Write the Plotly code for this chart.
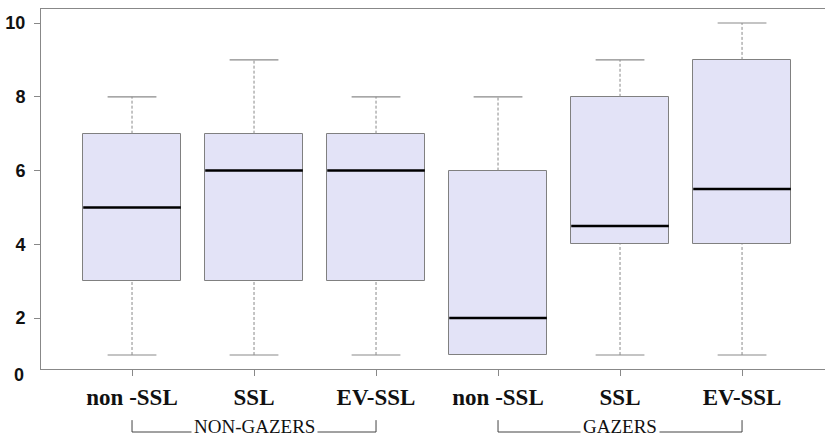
import plotly.graph_objects as go

categories = ["non -SSL", "SSL", "EV-SSL", "non -SSL", "SSL", "EV-SSL"]
groups = ["NON-GAZERS", "GAZERS"]
group_members = [[0, 1, 2], [3, 4, 5]]
lower = [1, 1, 1, 1, 1, 1]
q1 = [3, 3, 3, 1, 4, 4]
median = [5, 6, 6, 2, 4.5, 5.5]
q3 = [7, 7, 7, 6, 8, 9]
upper = [8, 9, 8, 8, 9, 10]
y_ticks = [2, 4, 6, 8, 10]
zero_label = "0"

pos = list(range(len(categories)))
BOX_W = 0.8
CAP_HALF = 0.2
GREY = "#808080"

fig = go.Figure()

# boxes
fig.add_trace(go.Bar(
    x=pos, y=[b - a for a, b in zip(q1, q3)], base=q1, width=BOX_W,
    marker=dict(color="#e3e3f7", line=dict(color=GREY, width=1)),
    hoverinfo="skip", showlegend=False))

# whiskers (dashed)
wx, wy = [], []
for i in pos:
    if upper[i] > q3[i]:
        wx += [i, i, None]; wy += [q3[i], upper[i], None]
    if lower[i] < q1[i]:
        wx += [i, i, None]; wy += [lower[i], q1[i], None]
fig.add_trace(go.Scatter(x=wx, y=wy, mode="lines",
                         line=dict(color="#8a8a8a", width=1, dash="3px,2px"),
                         hoverinfo="skip", showlegend=False))

# caps
cx, cy = [], []
for i in pos:
    if upper[i] > q3[i]:
        cx += [i - CAP_HALF, i + CAP_HALF, None]; cy += [upper[i], upper[i], None]
    if lower[i] < q1[i]:
        cx += [i - CAP_HALF, i + CAP_HALF, None]; cy += [lower[i], lower[i], None]
fig.add_trace(go.Scatter(x=cx, y=cy, mode="lines",
                         line=dict(color="#8a8a8a", width=1.2),
                         hoverinfo="skip", showlegend=False))

# medians
mx, my = [], []
for i in pos:
    mx += [i - BOX_W / 2, i + BOX_W / 2, None]; my += [median[i], median[i], None]
fig.add_trace(go.Scatter(x=mx, y=my, mode="lines",
                         line=dict(color="black", width=2.5),
                         hoverinfo="skip", showlegend=False))

# group brackets
shapes, annotations = [], []
BR_Y = -0.175
BR_TOP = -0.142
for g, members in zip(groups, group_members):
    a, b = members[0], members[-1]
    shapes.append(dict(type="line", xref="x", yref="paper", x0=a, x1=b, y0=BR_Y, y1=BR_Y,
                       line=dict(color="#444", width=1)))
    for e in (a, b):
        shapes.append(dict(type="line", xref="x", yref="paper", x0=e, x1=e, y0=BR_Y, y1=BR_TOP,
                           line=dict(color="#444", width=1)))
    annotations.append(dict(x=(a + b) / 2, y=BR_Y + 0.014, xref="x", yref="paper",
                            text=g, showarrow=False, bgcolor="white", borderpad=2,
                            font=dict(family="Liberation Serif", size=19, color="#111"),
                            xanchor="center", yanchor="middle"))

annotations.append(dict(xref="paper", x=0, xanchor="right", xshift=-15, yref="paper", y=-0.017,
                        yanchor="middle", text=zero_label, showarrow=False,
                        font=dict(family="Liberation Sans", size=18, color="#111", weight="bold")))

fig.update_layout(
    width=825, height=436,
    margin=dict(l=41, r=0, t=9, b=67),
    paper_bgcolor="white", plot_bgcolor="white",
    shapes=shapes, annotations=annotations,
    bargap=0,
    xaxis=dict(range=[-0.746, 5.68], tickmode="array", tickvals=pos, ticktext=categories,
               showline=True, linecolor="#888", linewidth=1, mirror=True,
               ticks="outside", ticklen=6, tickcolor="#888", showgrid=False, zeroline=False,
               tickfont=dict(family="Liberation Serif", size=23, color="#111", weight="bold"),
               ticklabelstandoff=1),
    yaxis=dict(range=[0.62, 10.38], tickmode="array", tickvals=y_ticks,
               showline=True, linecolor="#888", linewidth=1,
               ticks="outside", ticklen=6, tickcolor="#888", showgrid=False, zeroline=False,
               tickfont=dict(family="Liberation Sans", size=18, color="#111", weight="bold"),
               ticklabelstandoff=5),
)

fig.write_html("out.html", config={"displayModeBar": False},
               post_script="document.body.style.margin='0';")
